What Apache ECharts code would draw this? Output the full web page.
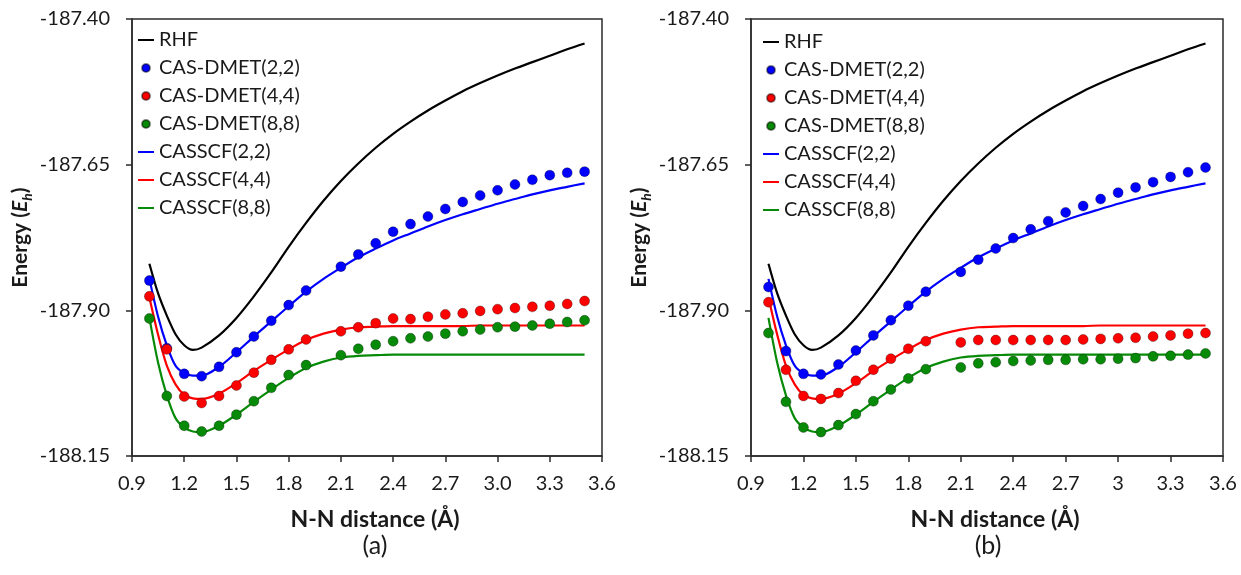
<!DOCTYPE html>
<html>
<head>
<meta charset="utf-8">
<script src="https://cdn.jsdelivr.net/npm/echarts@6/dist/echarts.min.js"></script>
<style>
  html, body { margin: 0; padding: 0; background: #fff; }
  #chart { width: 1241px; height: 575px; }
</style>
</head>
<body>
<div id="chart"></div>
<script>
// N-N distance (Å) of the CAS-DMET points (no point at 2.0)
const xDmet = [1.0, 1.1, 1.2, 1.3, 1.4, 1.5, 1.6, 1.7, 1.8, 1.9,
  2.1, 2.2, 2.3, 2.4, 2.5, 2.6, 2.7, 2.8, 2.9, 3.0, 3.1, 3.2, 3.3, 3.4, 3.5];

// panel (a)
const dmet22A = [-187.849, -187.965, -188.009, -188.013, -187.997, -187.972, -187.945, -187.918, -187.891, -187.866,
  -187.825, -187.804, -187.785, -187.765, -187.752, -187.739, -187.726, -187.714, -187.703, -187.694, -187.684, -187.676, -187.668, -187.664, -187.662];
const dmet44A = [-187.876, -187.967, -188.048, -188.059, -188.047, -188.029, -188.007, -187.985, -187.967, -187.950,
  -187.936, -187.929, -187.922, -187.914, -187.915, -187.911, -187.907, -187.905, -187.901, -187.898, -187.896, -187.894, -187.892, -187.889, -187.884];
const dmet88A = [-187.914, -188.047, -188.098, -188.108, -188.098, -188.079, -188.056, -188.033, -188.011, -187.994,
  -187.977, -187.966, -187.959, -187.953, -187.948, -187.945, -187.940, -187.936, -187.933, -187.929, -187.928, -187.926, -187.923, -187.920, -187.917];

// panel (b)
const dmet22B = [-187.860, -187.970, -188.009, -188.010, -187.993, -187.969, -187.943, -187.917, -187.892, -187.868,
  -187.834, -187.813, -187.794, -187.776, -187.761, -187.747, -187.732, -187.721, -187.709, -187.698, -187.689, -187.680, -187.671, -187.663, -187.655];
const dmet44B = [-187.886, -188.002, -188.047, -188.052, -188.042, -188.021, -188.002, -187.983, -187.966, -187.953,
  -187.955, -187.951, -187.951, -187.951, -187.951, -187.951, -187.951, -187.950, -187.949, -187.948, -187.947, -187.945, -187.943, -187.940, -187.939];
const dmet88B = [-187.939, -188.057, -188.101, -188.109, -188.097, -188.078, -188.056, -188.036, -188.017, -188.001,
  -187.998, -187.991, -187.989, -187.987, -187.986, -187.985, -187.985, -187.984, -187.984, -187.983, -187.982, -187.979, -187.978, -187.976, -187.974];

// reference curves, same in both panels
const xCurve = [1.0, 1.05, 1.1, 1.15, 1.2, 1.25, 1.3, 1.4, 1.5, 1.6, 1.7, 1.8, 1.9, 2.0,
  2.1, 2.2, 2.3, 2.4, 2.5, 2.6, 2.7, 2.8, 2.9, 3.0, 3.1, 3.2, 3.3, 3.4, 3.5];
const rhf = [-187.820, -187.871, -187.909, -187.941, -187.960, -187.968, -187.964, -187.943, -187.913, -187.876, -187.835, -187.791, -187.750, -187.712,
  -187.678, -187.648, -187.621, -187.597, -187.576, -187.557, -187.540, -187.524, -187.510, -187.497, -187.485, -187.474, -187.463, -187.452, -187.442];
const casscf22 = [-187.846, -187.911, -187.960, -187.995, -188.008, -188.012, -188.012, -187.997, -187.972, -187.945, -187.919, -187.893, -187.868, -187.846,
  -187.827, -187.809, -187.794, -187.780, -187.768, -187.756, -187.745, -187.735, -187.726, -187.717, -187.709, -187.701, -187.694, -187.688, -187.682];
const casscf44 = [-187.878, -187.942, -187.995, -188.027, -188.045, -188.051, -188.052, -188.043, -188.025, -188.004, -187.985, -187.967, -187.951, -187.940,
  -187.933, -187.929, -187.928, -187.927, -187.927, -187.927, -187.927, -187.927, -187.926, -187.926, -187.926, -187.926, -187.926, -187.926, -187.926];
const casscf88 = [-187.913, -187.990, -188.046, -188.085, -188.101, -188.108, -188.109, -188.098, -188.079, -188.057, -188.036, -188.016, -187.999, -187.988,
  -187.981, -187.978, -187.977, -187.976, -187.976, -187.976, -187.976, -187.976, -187.976, -187.976, -187.976, -187.976, -187.976, -187.976, -187.976];

const xTicksA = ['0.9', '1.2', '1.5', '1.8', '2.1', '2.4', '2.7', '3.0', '3.3', '3.6'];
const xTicksB = ['0.9', '1.2', '1.5', '1.8', '2.1', '2.4', '2.7', '3', '3.3', '3.6'];
const yTicks = [-188.15, -187.90, -187.65, -187.40];

const FONT = 'Lato, "Open Sans", sans-serif';
const INK = '#1a1a1a';
const FRAME = '#2b2b2b';
const BLUE = '#0000ff', RED = '#ff0000', GREEN = '#078a07';
const LINE_ICON = 'path://M0,0H16V2H0Z';

const legendItems = [
  { name: 'RHF', icon: LINE_ICON },
  { name: 'CAS-DMET(2,2)', icon: 'circle' },
  { name: 'CAS-DMET(4,4)', icon: 'circle' },
  { name: 'CAS-DMET(8,8)', icon: 'circle' },
  { name: 'CASSCF(2,2)', icon: LINE_ICON },
  { name: 'CASSCF(4,4)', icon: LINE_ICON },
  { name: 'CASSCF(8,8)', icon: LINE_ICON }
];

const pair = (xs, ys) => xs.map((x, i) => [x, ys[i]]);

function panelSeries(k, d22, d44, d88) {
  const ax = { xAxisIndex: k, yAxisIndex: k };
  const line = (name, ys, color) => ({
    ...ax, name, type: 'line', data: pair(xCurve, ys), smooth: 0.3,
    symbol: 'none', lineStyle: { color, width: 2.2 }, itemStyle: { color }, z: 2
  });
  const dots = (name, ys, color) => ({
    ...ax, name, type: 'scatter', data: pair(xDmet, ys), symbolSize: 10,
    itemStyle: { color, opacity: 1, borderColor: 'rgba(0,0,0,0.45)', borderWidth: 0.7 }, z: 3
  });
  return [
    line('RHF', rhf, '#000'),
    line('CASSCF(2,2)', casscf22, BLUE),
    line('CASSCF(4,4)', casscf44, RED),
    line('CASSCF(8,8)', casscf88, GREEN),
    dots('CAS-DMET(2,2)', d22, BLUE),
    dots('CAS-DMET(4,4)', d44, RED),
    dots('CAS-DMET(8,8)', d88, GREEN)
  ];
}

function xAxisCfg(k, labels) {
  return {
    gridIndex: k, type: 'value', min: 0.9, max: 3.6, interval: 0.3,
    name: 'N-N distance (Å)', nameLocation: 'middle', nameGap: 52,
    nameTextStyle: { fontFamily: FONT, fontSize: 23, fontWeight: 'bold', color: INK, padding: [0, 0, 0, 16] },
    axisLine: { lineStyle: { color: FRAME, width: 1.5 } },
    axisTick: { inside: false, length: 6, lineStyle: { color: FRAME, width: 1.5 } },
    axisLabel: {
      margin: 18, fontFamily: FONT, fontSize: 20, color: INK,
      formatter: v => labels[Math.round((v - 0.9) / 0.3)]
    },
    splitLine: { show: false }
  };
}

function yAxisCfg(k) {
  return {
    gridIndex: k, type: 'value', min: -188.15, max: -187.40,
    name: '{b|Energy (}{i|E}{s|h}{b|)}', nameLocation: 'middle', nameGap: 98,
    nameTextStyle: {
      rich: {
        b: { fontFamily: FONT, fontSize: 21, fontWeight: 'bold', color: INK, lineHeight: 28 },
        i: { fontFamily: FONT, fontSize: 21, fontWeight: 'bold', fontStyle: 'italic', color: INK, lineHeight: 28 },
        s: { fontFamily: FONT, fontSize: 14, fontWeight: 'bold', fontStyle: 'italic', color: INK, lineHeight: 18, verticalAlign: 'bottom' }
      }
    },
    axisLine: { show: true, lineStyle: { color: FRAME, width: 1.5 } },
    axisTick: { show: true, inside: false, length: 6, customValues: yTicks, lineStyle: { color: FRAME, width: 1.5 } },
    axisLabel: { margin: 22, fontFamily: FONT, fontSize: 20, color: INK, customValues: yTicks, formatter: v => v.toFixed(2) },
    splitLine: { show: false }
  };
}

function legendCfg(left, top) {
  return {
    data: legendItems, orient: 'vertical', left, top, padding: 0,
    itemWidth: 16, itemHeight: 8, itemGap: 8, selectedMode: false,
    textStyle: { fontFamily: FONT, fontSize: 20, color: INK }
  };
}

const chart = echarts.init(document.getElementById('chart'));
chart.setOption({
  animation: false,
  backgroundColor: '#fff',
  grid: [
    { left: 132, top: 19, width: 470, height: 437, show: true, borderColor: FRAME, borderWidth: 1.5 },
    { left: 751, top: 19, width: 472, height: 437, show: true, borderColor: FRAME, borderWidth: 1.5 }
  ],
  xAxis: [xAxisCfg(0, xTicksA), xAxisCfg(1, xTicksB)],
  yAxis: [yAxisCfg(0), yAxisCfg(1)],
  legend: [legendCfg(138, 30), legendCfg(763, 32)],
  graphic: [
    { type: 'text', x: 375, y: 546, style: { text: '(a)', fontFamily: FONT, fontSize: 25, fill: INK, textAlign: 'center', textVerticalAlign: 'middle' } },
    { type: 'text', x: 988, y: 546, style: { text: '(b)', fontFamily: FONT, fontSize: 25, fill: INK, textAlign: 'center', textVerticalAlign: 'middle' } }
  ],
  series: [...panelSeries(0, dmet22A, dmet44A, dmet88A), ...panelSeries(1, dmet22B, dmet44B, dmet88B)]
});
</script>
</body>
</html>
